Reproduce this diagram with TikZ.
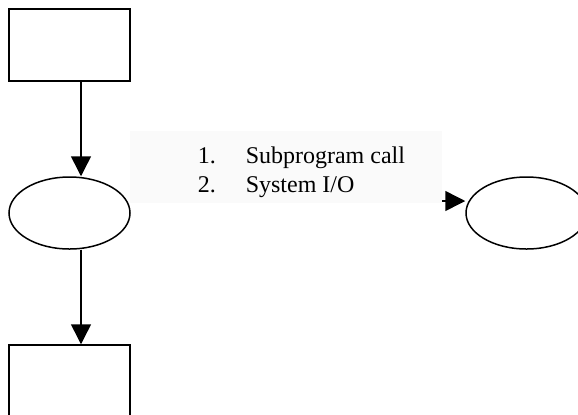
\documentclass[tikz,border=0pt]{standalone}
\usepackage{fontspec}
\setmainfont{Liberation Serif}
\usepackage{tikz}
\usetikzlibrary{arrows.meta,positioning,shapes.geometric}

\begin{document}
\begin{tikzpicture}[x=0.5pt, y=-0.5pt,
  font=\fontsize{12}{14.5}\selectfont, >={Triangle[length=10pt,width=10pt]},
  line width=0.75pt,
  box/.style={draw, minimum width=60.5pt, minimum height=36pt, inner sep=0pt},
  oval/.style={ellipse, draw, minimum width=60.5pt, minimum height=36pt, inner sep=0pt},
  note/.style={fill=black!2, minimum width=156pt, minimum height=36pt, inner sep=0pt}]
\useasboundingbox (0,0) rectangle (578,414);
\clip (0,0) rectangle (578,414);
\node[box] (start) at (69.5,45) {};
\node[oval] (call) at (69.5,213) {};
\node[box] (next) at (69.5,381) {};
\node[oval] (sub) at (526.5,213) {};
\coordinate (col) at (81,0);
\draw[->] (start.south -| col) -- (call.north -| col);
\draw[->] (call.south -| col) -- (next.north -| col);
\draw[->] ([yshift=6pt]call.east) -- ([yshift=6pt]sub.west);
% the list sits on a light panel over the arrow
\node[note] (legend) at (286,167) {};
\node[anchor=base west, inner sep=0pt] (items) at (197,163)
  {\begin{tabular}[t]{@{}p{24pt}@{}l@{}}1. & Subprogram call\\ 2. & System I/O\end{tabular}};
\end{tikzpicture}
\end{document}
